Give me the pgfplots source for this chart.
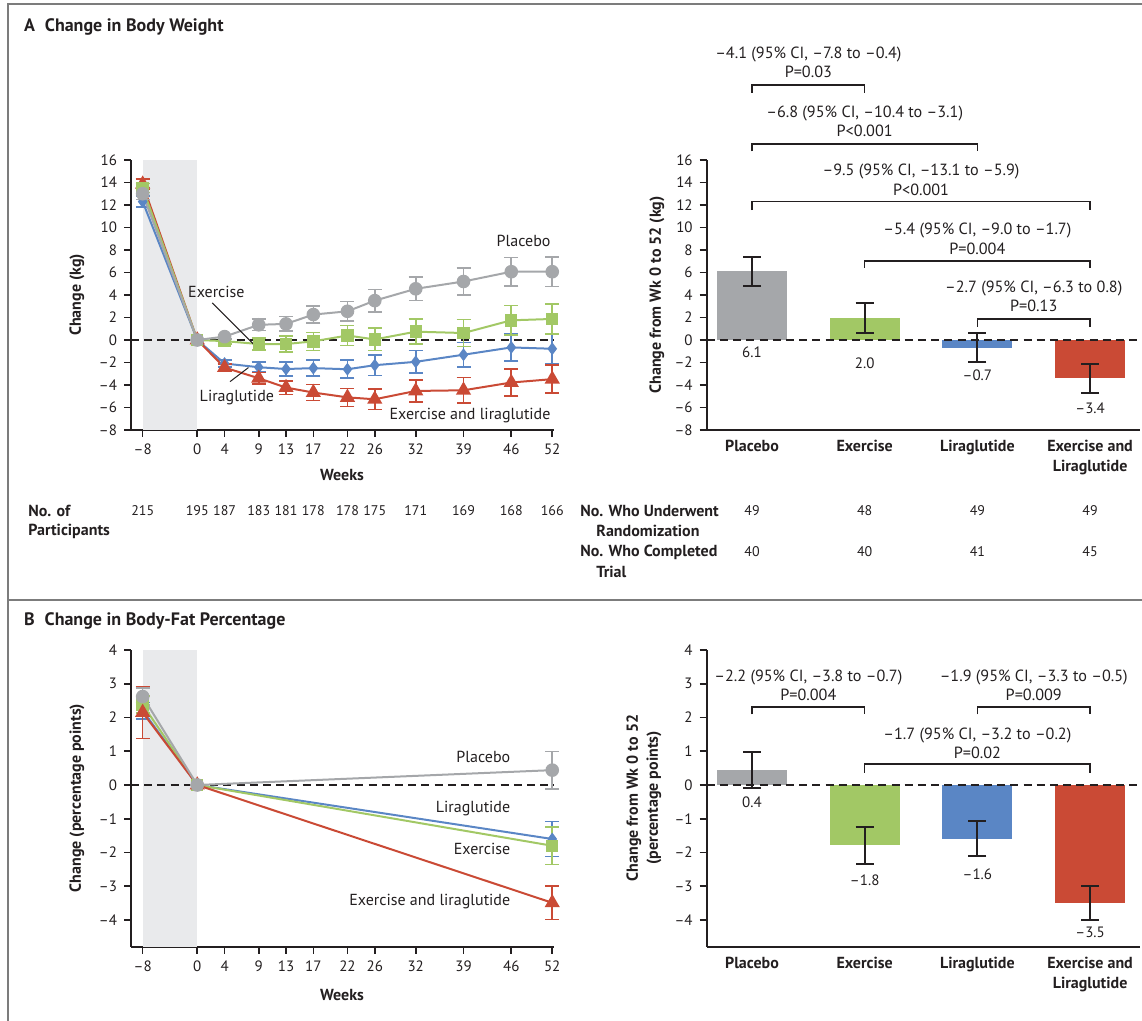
\documentclass[border=0pt]{standalone}
\usepackage{fontspec}
\setmainfont{PT Sans}
\usepackage{pgfplots}
\pgfplotsset{compat=1.18}

\definecolor{cPla}{HTML}{A5A7AA}
\definecolor{cEx}{HTML}{A2C865}
\definecolor{cLir}{HTML}{5A86C5}
\definecolor{cExL}{HTML}{CA4A35}
\definecolor{bandc}{HTML}{E9EAEC}
\definecolor{framec}{HTML}{7C7C7C}
\definecolor{ink}{HTML}{231F20}

\newcommand\tk{\fontsize{7.5}{8}\selectfont}
\newcommand\an{\fontsize{8.1}{9.6}\selectfont}
\newcommand\lb{\bfseries\fontsize{8}{10}\selectfont}
\newcommand\slab{\fontsize{8}{9}\selectfont}

\pgfplotsset{
  nejm/.style={
    scale only axis, clip=false,
    axis lines=left,
    axis line style={-, line width=0.9pt, draw=ink},
    every tick/.style={line width=0.8pt, ink},
    tick align=outside, major tick length=3.5pt,
    tick label style={font=\tk, text=ink},
  },
  wk/.style={nejm, xmin=-9.71, xmax=52.2, width=211.3pt,
    xtick={-8,0,4,9,13,17,22,26,32,39,46,52},
    xticklabels={–8,0,4,9,13,17,22,26,32,39,46,52}},
  br/.style={nejm, xmin=-0.402, xmax=3.443, width=216.65pt,
    xtick={0,1,2,3},
    xticklabels={Placebo,Exercise,Liraglutide,{Exercise and\\Liraglutide}},
    xticklabel style={font=\lb, align=center, yshift=2pt},
    xtick style={draw=none}},
  ln/.style={#1, line width=1pt, mark options={solid, fill=#1, draw=#1},
    error bars/y dir=both, error bars/y explicit,
    error bars/error bar style={line width=0.8pt, #1},
    error bars/error mark options={rotate=90, line width=0.8pt, mark size=3.5pt, draw=#1}},
  bb/.style={ybar, bar shift=0pt, bar width=0.62, fill=#1, draw=none,
    error bars/y dir=both, error bars/y explicit,
    error bars/error bar style={draw=ink, line width=1pt},
    error bars/error mark options={rotate=90, draw=ink, line width=1pt, mark size=4.5pt}},
}

\pgfplotstableread{
w y e
-8 13.0 0.5
0 0 0
4 0.3 0.2
9 1.35 0.5
13 1.43 0.65
17 2.26 0.77
22 2.55 0.88
26 3.5 1.0
32 4.55 1.05
39 5.2 1.2
46 6.07 1.25
52 6.07 1.3
}\wPla
\pgfplotstableread{
w y e
-8 13.5 0.4
0 0 0
4 -0.1 0.25
9 -0.36 0.55
13 -0.36 0.7
17 -0.12 0.8
22 0.4 0.9
26 0.05 1.0
32 0.74 1.1
39 0.62 1.2
46 1.75 1.3
52 1.87 1.35
}\wEx
\pgfplotstableread{
w y e
-8 12.3 0.5
0 0 0
4 -2.09 0.3
9 -2.42 0.45
13 -2.58 0.6
17 -2.5 0.7
22 -2.6 0.8
26 -2.24 0.9
32 -1.94 1.0
39 -1.31 1.1
46 -0.66 1.2
52 -0.78 1.3
}\wLir
\pgfplotstableread{
w y e
-8 13.85 0.45
0 0 0
4 -2.45 0.3
9 -3.4 0.5
13 -4.23 0.6
17 -4.67 0.7
22 -5.1 0.8
26 -5.27 0.9
32 -4.53 1.0
39 -4.47 1.12
46 -3.78 1.2
52 -3.48 1.25
}\wExL

\begin{document}
\begin{tikzpicture}
\useasboundingbox (0pt,0pt) rectangle (571pt,-510.5pt);
\clip (0pt,0pt) rectangle (571pt,-510.5pt);

% ---------- A: weight over time
\begin{axis}[wk, at={(65.5pt,-80pt)}, anchor=north west, height=135pt,
  ymin=-8, ymax=16, ytick={-8,-6,...,16},
  yticklabels={–8,–6,–4,–2,0,2,4,6,8,10,12,14,16}]
\fill[bandc] (axis cs:-8,-8) rectangle (axis cs:0,16);
\draw[ink, line width=0.8pt, dash pattern=on 4pt off 2.6pt] (axis cs:-9.71,0) -- (axis cs:52.2,0);
\addplot[ln=cLir, mark=diamond*, mark size=2.4pt] table[x=w, y=y, y error=e]{\wLir};
\addplot[ln=cExL, mark=triangle*, mark size=3.4pt] table[x=w, y=y, y error=e]{\wExL};
\addplot[ln=cEx, mark=square*, mark size=2.6pt] table[x=w, y=y, y error=e]{\wEx};
\addplot[ln=cPla, mark=*, mark size=2.9pt] table[x=w, y=y, y error=e]{\wPla};
\begin{scope}[every node/.style={font=\slab, text=ink, inner sep=0pt}]
\node[anchor=east] at (axis cs:51.8,8.8) {Placebo};
\node at (axis cs:2.8,4.3) {Exercise};
\node at (axis cs:5.8,-5.15) {Liraglutide};
\node[anchor=east] at (axis cs:51.8,-6.75) {Exercise and liraglutide};
\end{scope}
\draw[ink, line width=0.5pt] (axis cs:2.2,3.3) -- (axis cs:8.2,-0.35);
\draw[ink, line width=0.5pt] (axis cs:4.8,-3.7) -- (axis cs:7.5,-2.45);
\end{axis}

% ---------- A: change wk 0 to 52
\begin{axis}[br, at={(353.35pt,-80pt)}, anchor=north west, height=135pt,
  ymin=-8, ymax=16, ytick={-8,-6,...,16},
  yticklabels={–8,–6,–4,–2,0,2,4,6,8,10,12,14,16}]
\addplot[bb=cPla] coordinates {(0,6.1) +- (0,1.3)};
\addplot[bb=cEx] coordinates {(1,1.97) +- (0,1.35)};
\addplot[bb=cLir] coordinates {(2,-0.67) +- (0,1.27)};
\addplot[bb=cExL] coordinates {(3,-3.4) +- (0,1.27)};
\draw[ink, line width=0.8pt, dash pattern=on 4pt off 2.6pt] (axis cs:-0.402,0) -- (axis cs:3.443,0);
\begin{scope}[ink, line width=0.75pt]
\draw (axis cs:0,21.96) -- (axis cs:0,22.65) -- (axis cs:1,22.65) -- (axis cs:1,21.96);
\draw (axis cs:0,16.76) -- (axis cs:0,17.44) -- (axis cs:2,17.44) -- (axis cs:2,16.76);
\draw (axis cs:0,11.55) -- (axis cs:0,12.29) -- (axis cs:3,12.29) -- (axis cs:3,11.55);
\draw (axis cs:1,6.4) -- (axis cs:1,7.0) -- (axis cs:3,7.0) -- (axis cs:3,6.4);
\draw (axis cs:2,1.19) -- (axis cs:2,1.875) -- (axis cs:3,1.875) -- (axis cs:3,1.19);
\end{scope}
\begin{scope}[every node/.style={font=\an, text=ink, align=center}]
\node at (axis cs:0.5,24.65) {–4.1 (95\% CI, –7.8 to –0.4)\\P=0.03};
\node at (axis cs:1,19.43) {–6.8 (95\% CI, –10.4 to –3.1)\\P<0.001};
\node at (axis cs:1.5,14.23) {–9.5 (95\% CI, –13.1 to –5.9)\\P<0.001};
\node at (axis cs:2,9.0) {–5.4 (95\% CI, –9.0 to –1.7)\\P=0.004};
\node at (axis cs:2.5,3.85) {–2.7 (95\% CI, –6.3 to 0.8)\\P=0.13};
\end{scope}
\begin{scope}[every node/.style={font=\tk, text=ink}]
\node at (axis cs:0,-1.1) {6.1};
\node at (axis cs:1,-2.08) {2.0};
\node at (axis cs:2,-3.1) {–0.7};
\node at (axis cs:3,-6.07) {–3.4};
\end{scope}
\end{axis}

% ---------- B: body fat over time
\begin{axis}[wk, at={(65.5pt,-325pt)}, anchor=north west, height=148.5pt,
  ymin=-4.8, ymax=4, ytick={-4,-3,...,4},
  yticklabels={–4,–3,–2,–1,0,1,2,3,4}]
\fill[bandc] (axis cs:-8,-4.8) rectangle (axis cs:0,4);
\draw[ink, line width=0.8pt, dash pattern=on 4pt off 2.6pt] (axis cs:-9.71,0) -- (axis cs:52.2,0);
\addplot[ln=cLir, mark=diamond*, mark size=2.4pt] coordinates {(-8,2.2) +- (0,0.25) (0,0) +- (0,0) (52,-1.6) +- (0,0.52)};
\addplot[ln=cEx, mark=square*, mark size=2.6pt] coordinates {(-8,2.38) +- (0,0.25) (0,0) +- (0,0) (52,-1.8) +- (0,0.56)};
\addplot[ln=cExL, mark=triangle*, mark size=3.4pt] coordinates {(-8,2.15) +- (0,0.77) (0,0) +- (0,0) (52,-3.49) +- (0,0.5)};
\addplot[ln=cPla, mark=*, mark size=2.9pt] coordinates {(-8,2.62) +- (0,0.25) (0,0) +- (0,0) (52,0.44) +- (0,0.55)};
\begin{scope}[every node/.style={anchor=east, font=\slab, text=ink, inner sep=0pt}]
\node at (axis cs:45.9,0.84) {Placebo};
\node at (axis cs:45.9,-0.69) {Liraglutide};
\node at (axis cs:45.9,-1.9) {Exercise};
\node at (axis cs:45.9,-3.46) {Exercise and liraglutide};
\end{scope}
\end{axis}

% ---------- B: change wk 0 to 52
\begin{axis}[br, at={(353.35pt,-325pt)}, anchor=north west, height=148.5pt,
  ymin=-4.8, ymax=4, ytick={-4,-3,...,4},
  yticklabels={–4,–3,–2,–1,0,1,2,3,4}]
\addplot[bb=cPla] coordinates {(0,0.44) +- (0,0.53)};
\addplot[bb=cEx] coordinates {(1,-1.79) +- (0,0.56)};
\addplot[bb=cLir] coordinates {(2,-1.59) +- (0,0.52)};
\addplot[bb=cExL] coordinates {(3,-3.5) +- (0,0.5)};
\draw[ink, line width=0.8pt, dash pattern=on 4pt off 2.6pt] (axis cs:-0.402,0) -- (axis cs:3.443,0);
\begin{scope}[ink, line width=0.75pt]
\draw (axis cs:0,2.09) -- (axis cs:0,2.31) -- (axis cs:1,2.31) -- (axis cs:1,2.09);
\draw (axis cs:2,2.09) -- (axis cs:2,2.31) -- (axis cs:3,2.31) -- (axis cs:3,2.09);
\draw (axis cs:1,0.36) -- (axis cs:1,0.62) -- (axis cs:3,0.62) -- (axis cs:3,0.36);
\end{scope}
\begin{scope}[every node/.style={font=\an, text=ink, align=center}]
\node at (axis cs:0.5,2.965) {–2.2 (95\% CI, –3.8 to –0.7)\\P=0.004};
\node at (axis cs:2.5,2.965) {–1.9 (95\% CI, –3.3 to –0.5)\\P=0.009};
\node at (axis cs:2,1.245) {–1.7 (95\% CI, –3.2 to –0.2)\\P=0.02};
\end{scope}
\begin{scope}[every node/.style={font=\tk, text=ink}]
\node at (axis cs:0,-0.51) {0.4};
\node at (axis cs:1,-2.82) {–1.8};
\node at (axis cs:2,-2.63) {–1.6};
\node at (axis cs:3,-4.38) {–3.5};
\end{scope}
\end{axis}

% ---------- frame, titles, labels, counts (pixel units)
\begin{scope}[x=0.5pt, y=-0.5pt]
\draw[framec, line width=1.3pt] (8,1021) -- (8,4) -- (1142,4);
\draw[framec, line width=1.3pt] (8,600) -- (1142,600);
\node[anchor=west, font=\bfseries\fontsize{9}{11}\selectfont, text=ink] at (17,27) {A\hspace{5pt}Change in Body Weight};
\node[anchor=west, font=\bfseries\fontsize{9}{11}\selectfont, text=ink] at (17,621) {B\hspace{5pt}Change in Body-Fat Percentage};
\node[rotate=90, font=\lb, text=ink] at (77,295) {Change (kg)};
\node[rotate=90, font=\lb, text=ink] at (657,295) {Change from Wk 0 to 52 (kg)};
\node[rotate=90, font=\lb, text=ink] at (77,798) {Change (percentage points)};
\node[rotate=90, font=\lb, text=ink, align=center] at (644,798) {Change from Wk 0 to 52\\(percentage points)};
\node[font=\lb, text=ink] at (342,475) {Weeks};
\node[font=\lb, text=ink] at (342,995) {Weeks};
\begin{scope}[every node/.style={anchor=west, font=\lb, text=ink, inner sep=0pt}]
\node at (28,511) {No. of};
\node at (28,531) {Participants};
\node at (580,511) {No. Who Underwent};
\node at (596,531) {Randomization};
\node at (580,552) {No. Who Completed};
\node at (596,572) {Trial};
\end{scope}
\begin{scope}[every node/.style={font=\fontsize{7}{8}\selectfont, text=ink}]
\foreach \x/\n in {142.7/215, 197.3/195, 224.6/187, 258.7/183, 286.0/181, 313.3/178, 347.5/178, 374.8/175, 415.7/171, 463.5/169, 511.3/168, 552.2/166}
  \node at (\x,511) {\n};
\foreach \x/\n in {752/49, 864.7/48, 977.4/49, 1090.1/49}
  \node at (\x,511) {\n};
\foreach \x/\n in {752/40, 864.7/40, 977.4/41, 1090.1/45}
  \node at (\x,552) {\n};
\end{scope}
\end{scope}
\end{tikzpicture}
\end{document}
